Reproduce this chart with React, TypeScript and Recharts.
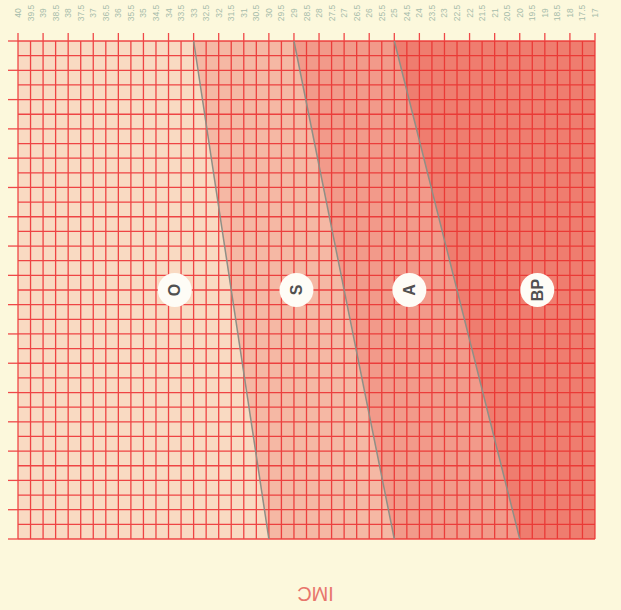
import { Area, CartesianGrid, ComposedChart, Line, Scatter, XAxis, YAxis } from "recharts"

// BMI ticks (IMC), drawn right to left
const bmiTicks = [
  17, 17.5, 18, 18.5, 19, 19.5, 20, 20.5, 21, 21.5, 22, 22.5, 23, 23.5, 24, 24.5, 25, 25.5, 26, 26.5, 27, 27.5,
  28, 28.5, 29, 29.5, 30, 30.5, 31, 31.5, 32, 32.5, 33, 33.5, 34, 34.5, 35, 35.5, 36, 36.5, 37, 37.5, 38, 38.5,
  39, 39.5, 40,
]
const ageTicks = [6, 8, 10, 12, 14, 16, 18, 20, 22, 24, 26, 28, 30, 32, 34, 36, 38, 40]
const ageGrid = [
  6, 7, 8, 9, 10, 11, 12, 13, 14, 15, 16, 17, 18, 19, 20, 21, 22, 23, 24, 25, 26, 27, 28, 29, 30, 31, 32, 33, 34,
  35, 36, 37, 38, 39, 40,
]

// zone boundaries (bmi at age 40 and at age 6)
const boundaryOS = [
  { bmi: 30, age: 6 },
  { bmi: 33, age: 40 },
]
const boundarySA = [
  { bmi: 25, age: 6 },
  { bmi: 29, age: 40 },
]
const boundaryABP = [
  { bmi: 20, age: 6 },
  { bmi: 25, age: 40 },
]

const zoneLabels = [
  { bmi: 33.75, age: 23, label: "O" },
  { bmi: 28.9, age: 23, label: "S" },
  { bmi: 24.4, age: 23, label: "A" },
  { bmi: 19.3, age: 23, label: "BP" },
]

// region on the low-bmi side of a boundary
const zoneOf = (b: { bmi: number; age: number }[]) => [{ bmi: 17, age: 6 }, ...b]

const RED = "#e8322c"
const GRID = "#ef4848"
const TICK_TEXT = "#a7bcab"
const FONT = "'Liberation Sans', Arial, sans-serif"

function TopTick(props: any) {
  const { x, y, payload } = props
  const v = payload.value
  return (
    <g>
      {Number.isInteger(v) && <line x1={x} x2={x} y1={y - 8} y2={y} stroke={GRID} strokeWidth={1.3} />}
      <text
        x={x}
        y={y - 28}
        transform={`rotate(-90 ${x} ${y - 28})`}
        textAnchor="middle"
        dominantBaseline="central"
        fontSize={8.5}
        fill={TICK_TEXT}
        fontFamily={FONT}
      >
        {v}
      </text>
    </g>
  )
}

function BottomTick(props: any) {
  const { x, y, payload } = props
  const v = payload.value
  return (
    <g>
      {Number.isInteger(v) && <line x1={x} x2={x} y1={y} y2={y + 8} stroke={GRID} strokeWidth={1.3} />}
      <text
        x={x}
        y={y + 19}
        transform={`rotate(-90 ${x} ${y + 19})`}
        textAnchor="middle"
        dominantBaseline="central"
        fontSize={8.5}
        fill={TICK_TEXT}
        fontFamily={FONT}
      >
        {v}
      </text>
    </g>
  )
}

function RightTick(props: any) {
  const { x, y, payload } = props
  return (
    <g>
      <line x1={x} x2={x + 9} y1={y} y2={y} stroke={GRID} strokeWidth={1.3} />
      <text
        x={x + 17}
        y={y}
        transform={`rotate(-90 ${x + 17} ${y})`}
        textAnchor="middle"
        dominantBaseline="central"
        fontSize={8.5}
        fill={TICK_TEXT}
        fontFamily={FONT}
      >
        {payload.value}
      </text>
    </g>
  )
}

function LeftTick(props: any) {
  const { x, y, payload } = props
  if (payload.value % 2 !== 0) return <g />
  return <line x1={x - 10} x2={x} y1={y} y2={y} stroke={GRID} strokeWidth={1.3} />
}

function ZoneBadge(props: any) {
  const { cx, cy, payload } = props
  return (
    <g>
      <circle cx={cx} cy={cy} r={17} fill="#fefcf6" />
      <text
        x={cx}
        y={cy}
        transform={`rotate(-90 ${cx} ${cy})`}
        textAnchor="middle"
        dominantBaseline="central"
        fontSize={16}
        fontWeight={600}
        fill="#505050"
        fontFamily={FONT}
      >
        {payload.label}
      </text>
    </g>
  )
}

export default function App() {
  return (
    <div style={{ width: 621, height: 610, background: "#fcf8dc" }}>
      <style>{`body{margin:0;background:#fcf8dc}`}</style>
      <ComposedChart width={621} height={610} margin={{ top: 0, right: 0, bottom: 0, left: 0 }}>
        <XAxis
          xAxisId="top"
          orientation="top"
          dataKey="bmi"
          type="number"
          domain={[17, 40]}
          reversed
          ticks={bmiTicks}
          interval={0}
          height={41}
          tickSize={0}
          tickMargin={0}
          axisLine={false}
          tickLine={false}
          tick={<TopTick />}
        />
        <XAxis
          xAxisId="bottom"
          orientation="bottom"
          dataKey="bmi"
          type="number"
          domain={[17, 40]}
          reversed
          ticks={bmiTicks}
          interval={0}
          height={71}
          tickSize={0}
          tickMargin={0}
          axisLine={false}
          tickLine={false}
          tick={<BottomTick />}
          label={(p: any) => {
            const vb = p.viewBox
            const cx = vb.x + vb.width / 2 + 9
            const cy = vb.y + 55
            return (
              <text
                x={cx}
                y={cy}
                transform={`rotate(180 ${cx} ${cy})`}
                textAnchor="middle"
                dominantBaseline="central"
                fontSize={20}
                fill="#e8766c"
                fontFamily={FONT}
              >
                IMC
              </text>
            )
          }}
        />
        <YAxis
          yAxisId="left"
          orientation="left"
          dataKey="age"
          type="number"
          domain={[6, 40]}
          ticks={ageGrid}
          interval={0}
          width={18}
          tickSize={0}
          tickMargin={0}
          axisLine={false}
          tickLine={false}
          tick={<LeftTick />}
        />
        <YAxis
          yAxisId="right"
          orientation="right"
          dataKey="age"
          type="number"
          domain={[6, 40]}
          ticks={ageTicks}
          interval={0}
          width={26}
          tickSize={0}
          tickMargin={0}
          axisLine={false}
          tickLine={false}
          tick={<RightTick />}
        />

        {/* zone shading, cumulative */}
        <Area
          xAxisId="top"
          yAxisId="left"
          data={[
            { bmi: 17, age: 6 },
            { bmi: 40, age: 6 },
          ]}
          dataKey="age"
          baseValue={40}
          type="linear"
          stroke="none"
          fill={RED}
          fillOpacity={0.15}
          isAnimationActive={false}
        />
        <Area
          xAxisId="top"
          yAxisId="left"
          data={zoneOf(boundaryOS)}
          dataKey="age"
          baseValue={40}
          type="linear"
          stroke="none"
          fill={RED}
          fillOpacity={0.2}
          isAnimationActive={false}
        />
        <Area
          xAxisId="top"
          yAxisId="left"
          data={zoneOf(boundarySA)}
          dataKey="age"
          baseValue={40}
          type="linear"
          stroke="none"
          fill={RED}
          fillOpacity={0.22}
          isAnimationActive={false}
        />
        <Area
          xAxisId="top"
          yAxisId="left"
          data={zoneOf(boundaryABP)}
          dataKey="age"
          baseValue={40}
          type="linear"
          stroke="none"
          fill={RED}
          fillOpacity={0.28}
          isAnimationActive={false}
        />

        <CartesianGrid xAxisId="top" yAxisId="left" stroke={GRID} strokeWidth={1.3} />

        {[boundaryOS, boundarySA, boundaryABP].map((b, i) => (
          <Line
            key={i}
            xAxisId="top"
            yAxisId="left"
            data={b}
            dataKey="age"
            type="linear"
            stroke="#8f8f86"
            strokeWidth={1.5}
            dot={false}
            isAnimationActive={false}
          />
        ))}

        <Scatter
          xAxisId="top"
          yAxisId="left"
          data={zoneLabels}
          dataKey="age"
          shape={<ZoneBadge />}
          isAnimationActive={false}
        />
      </ComposedChart>
    </div>
  )
}
